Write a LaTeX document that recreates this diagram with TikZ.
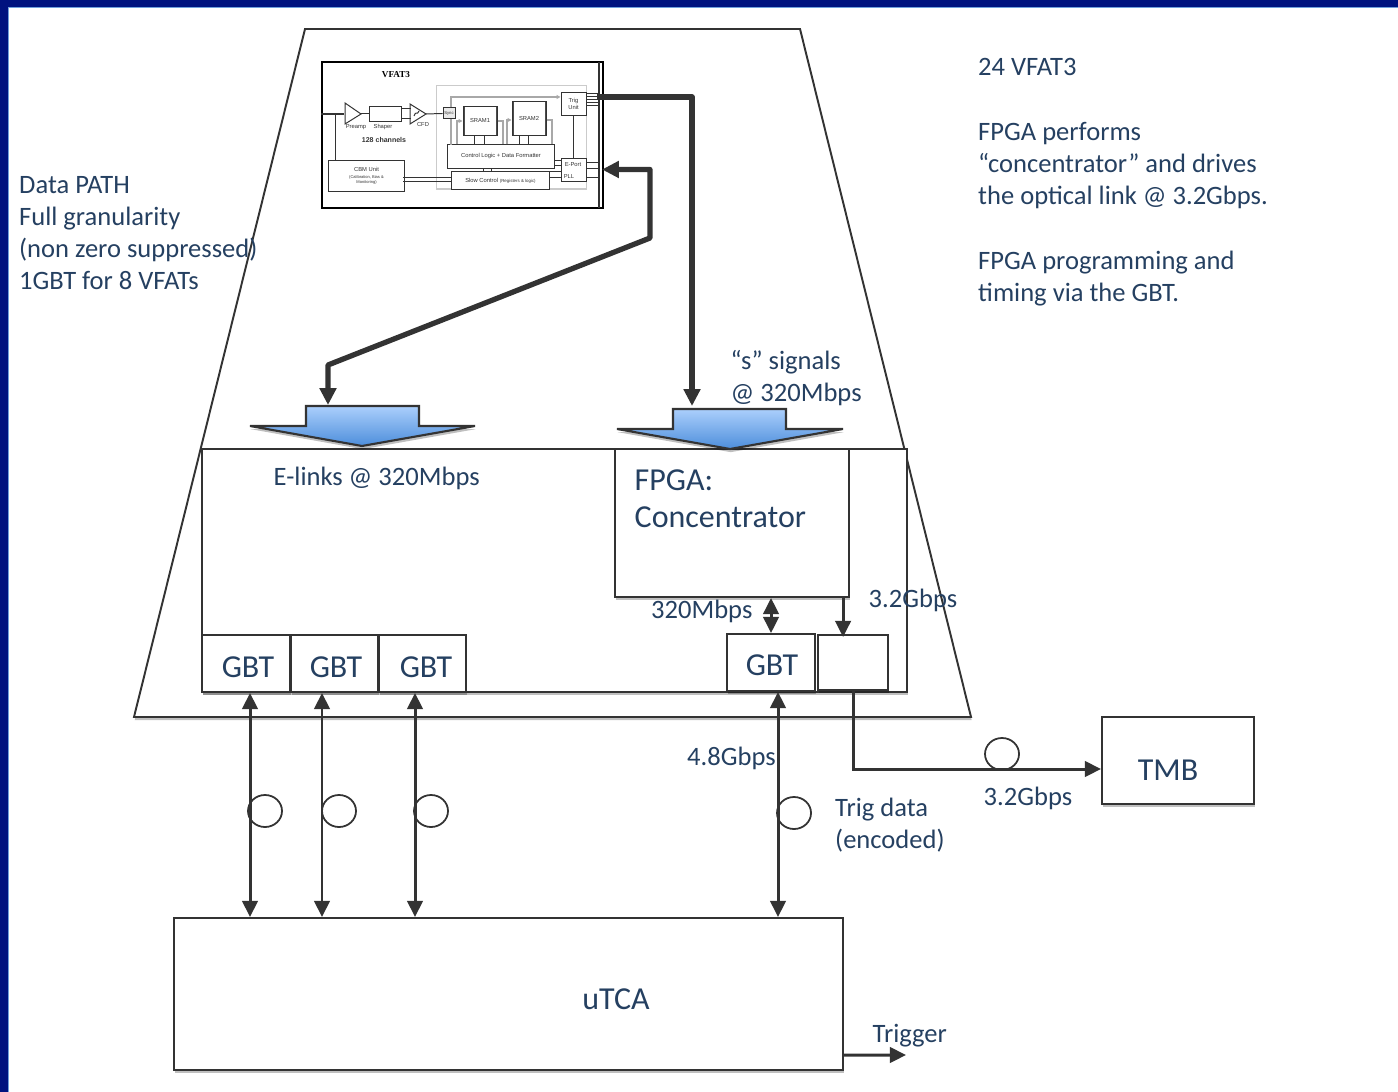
\documentclass[tikz,border=0pt]{standalone}
\usepackage{fontspec}
\setmainfont{Carlito}
\newfontfamily\chipfont{Liberation Sans}
\newfontfamily\chiptitle{Liberation Serif}
\usetikzlibrary{calc,arrows.meta,shadows,shapes.geometric}
\definecolor{framenavy}{HTML}{00137F}
\definecolor{frameedge}{HTML}{6FA0DC}
\definecolor{labelblue}{HTML}{254061}
\definecolor{linegray}{HTML}{333333}
\definecolor{chipgray}{HTML}{A8A8A8}
\definecolor{flowtop}{HTML}{ABCFFC}
\definecolor{flowbottom}{HTML}{4D8EDB}
\tikzset{
  softshadow/.style={drop shadow={shadow xshift=0.2pt,shadow yshift=-0.9pt,opacity=.25,fill=black}},
  boxnode/.style={draw=linegray,line width=0.55pt,fill=white,softshadow,inner sep=0,text=labelblue},
  boxtext/.style={text=labelblue,inner sep=0,font=\fontsize{9.1}{10.5}\selectfont},
  plainline/.style={draw=linegray,line width=0.55pt},
  linktwo/.style={draw=linegray,line width=0.85pt,{Triangle[length=4.6pt,width=4.4pt]}-{Triangle[length=4.6pt,width=4.4pt]}},
  linkone/.style={draw=linegray,line width=0.85pt,-{Triangle[length=4.6pt,width=4.4pt]}},
  chiplink/.style={draw=linegray,line width=1.5pt,-{Triangle[length=4.8pt,width=4.6pt]}},
  chiplinktwo/.style={draw=linegray,line width=1.5pt,{Triangle[length=4.8pt,width=4.6pt]}-{Triangle[length=4.8pt,width=4.6pt]}},
  fibre/.style={draw=linegray,line width=0.5pt,ellipse,minimum width=0.34cm,minimum height=0.32cm,inner sep=0},
  notetext/.style={text=labelblue,align=left,inner sep=0,anchor=north west,font=\fontsize{7.55}{9.1}\selectfont},
  ratetext/.style={text=labelblue,inner sep=0,anchor=west,font=\fontsize{7.55}{9.1}\selectfont},
  flowarrow/.style={draw=linegray,line width=0.6pt,top color=flowtop,bottom color=flowbottom,softshadow},
  chipbox/.style={draw=black!80,line width=0.28pt,fill=white,text=black!80,inner sep=0,align=center,font=\chipfont\fontsize{1.65}{2}\selectfont},
  chiptext/.style={inner sep=0,text=black!80,align=center,font=\chipfont\fontsize{1.65}{2}\selectfont},
  chipwire/.style={draw=black!80,line width=0.28pt},
  graywire/.style={draw=chipgray,line width=0.45pt},
  grayarrow/.style={draw=chipgray,line width=0.45pt,-{Triangle[length=1.1pt,width=1.1pt]}}
}
\begin{document}
\begin{tikzpicture}[x=0.01cm,y=-0.01cm]
  \useasboundingbox (0,0) rectangle (1398,1092);

  % Frame
  \fill[framenavy] (0,0) rectangle (1398,7);
  \fill[framenavy] (0,0) rectangle (8,1092);
  \fill[frameedge] (8,7) rectangle (1398,8);
  \fill[frameedge] (8,7) rectangle (9,1092);

  % Trapezoid
  \draw[plainline,softshadow,fill=white] (305,29) -- (800,29) -- (971,717) -- (134,717) -- cycle;

  % Board
  \node (board) [boxnode,minimum width=7.05cm,minimum height=2.43cm] at (554.5,570.5) {};

  % FPGA
  \node (fpga) [boxnode,minimum width=2.34cm,minimum height=1.48cm] at (732,523) {};
  \node (fpgatext) [notetext,font=\fontsize{9.1}{10.4}\selectfont] at (634,469) {FPGA:\\Concentrator};

  % GBTs
  \node (gbta) [boxnode,minimum width=0.88cm,minimum height=0.57cm] at (246,663.5) {};
  \node (gbtb) [boxnode,minimum width=0.87cm,minimum height=0.57cm] at (334.5,663.5) {};
  \node (gbtc) [boxnode,minimum width=0.87cm,minimum height=0.57cm] at (422.5,663.5) {};
  \node (gbtd) [boxnode,minimum width=0.88cm,minimum height=0.57cm] at (771,662.5) {};
  \node (optic) [boxnode,minimum width=0.70cm,minimum height=0.55cm] at (853,662.5) {};
  \node (gbtatext) [boxtext] at (248,667) {GBT};
  \node (gbtbtext) [boxtext] at (336,667) {GBT};
  \node (gbtctext) [boxtext] at (426,667) {GBT};
  \node (gbtdtext) [boxtext] at (772,665) {GBT};

  % Back end
  \node (utca) [boxnode,minimum width=6.69cm,minimum height=1.52cm] at (508.5,994) {};
  \node (utcatext) [boxtext] at (616,999) {uTCA};
  \node (tmb) [boxnode,minimum width=1.52cm,minimum height=0.87cm] at (1178,760.5) {};
  \node (tmbtext) [boxtext] at (1168,770) {TMB};

  % Chip
  \node (chip) [draw=black,line width=0.6pt,fill=white,minimum width=2.81cm,minimum height=1.46cm,inner sep=0] at (462.5,135) {};
  \draw[chipwire,line width=0.5pt] (599,62) -- (599,208);
  \node (chipzone) [draw=chipgray!60,line width=0.3pt,minimum width=1.49cm,minimum height=1.03cm,inner sep=0] at (511.5,137.5) {};
  \node (chipname) [inner sep=0,font=\chiptitle\bfseries\fontsize{2.6}{3}\selectfont] at (396,75) {VFAT3};
  \node (preamp) [inner sep=0,minimum size=0] at (345,114) {};
  \draw[chipwire] (345,103) -- (361,114) -- (345,124) -- cycle;
  \node (shaper) [chipbox,minimum width=0.32cm,minimum height=0.14cm] at (385,114) {};
  \node (cfd) [inner sep=0,minimum size=0] at (410,114) {};
  \draw[chipwire] (410,104) -- (426,114) -- (410,124) -- cycle;
  \draw[chipwire] (414,116) .. controls (416,110) and (417,116) .. (419,111);
  \node (sync) [chipbox,fill=black!8,minimum width=0.12cm,minimum height=0.11cm,font=\chipfont\fontsize{1.2}{1.4}\selectfont] at (449,113.5) {Sync};
  \node (srama) [chipbox,minimum width=0.34cm,minimum height=0.28cm] at (480,121) {SRAM1};
  \node (sramb) [chipbox,minimum width=0.34cm,minimum height=0.33cm] at (529,118.5) {SRAM2};
  \node (trig) [chipbox,minimum width=0.25cm,minimum height=0.22cm] at (573.5,104) {Trig\\Unit};
  \node (logic) [chipbox,minimum width=1.06cm,minimum height=0.23cm] at (501,156.5) {Control Logic + Data Formatter};
  \node (slow) [chipbox,minimum width=0.97cm,minimum height=0.17cm] at (500.5,180.5) {Slow Control {\fontsize{1.25}{1.4}\selectfont (Registers \& logic)}};
  \node (eport) [chipbox,minimum width=0.25cm,minimum height=0.22cm] at (573.5,170) {};
  \node (cbm) [chipbox,minimum width=0.75cm,minimum height=0.30cm] at (366.5,176) {CBM Unit\\[-0.1pt]{\fontsize{1.15}{1.4}\selectfont (Calibration, Bias \&}\\[-0.4pt]{\fontsize{1.15}{1.4}\selectfont Monitoring)}};
  \node[chiptext] at (573,165) {E-Port};
  \node[chiptext] at (569,176.5) {PLL};
  \node[chiptext] at (356,127) {Preamp};
  \node[chiptext] at (383,127) {Shaper};
  \node[chiptext] at (423,124.5) {CFD};
  \node[chiptext,font=\chipfont\bfseries\fontsize{2}{2.4}\selectfont] at (384,140) {128 channels};

  % Chip wiring
  \draw[chipwire,line width=0.4pt] (chip.west |- preamp) -- (preamp);
  \draw[chipwire] ([xshift=-0.305cm]cbm.north) -- +(0,-47);
  \draw[chipwire] (361,114) -- (shaper.west);
  \draw[chipwire] ([yshift=0.05cm]shaper.east) -- +(9,0);
  \draw[chipwire] ([yshift=-0.05cm]shaper.east) -- +(9,0);
  \draw[chipwire] (426,114) -- (sync.west);
  \draw[chipwire] ([xshift=-0.06cm]srama.south) -- +(0,10);
  \draw[chipwire] ([xshift=0.04cm]srama.south) -- +(0,10);
  \draw[chipwire] ([xshift=-0.10cm]sramb.south) -- +(0,10);
  \draw[chipwire] ([xshift=-0.01cm]sramb.south) -- +(0,10);
  \foreach \bar in {463.8,495.8} { \fill[black!70] (\bar,107) rectangle +(1.6,28); }
  \foreach \bar in {512.8,544.8} { \fill[black!70] (\bar,102) rectangle +(1.6,33); }
  \draw[grayarrow] ([xshift=0.02cm]sync.north) |- ([yshift=0.07cm]trig.west);
  \draw[graywire] ([xshift=0.02cm]sync.south) -- +(0,26);
  \draw[grayarrow] ([xshift=-0.44cm]logic.north) |- (srama.west);
  \draw[graywire] (srama.east) -| ([xshift=0.02cm]logic.north);
  \draw[grayarrow] ([xshift=0.06cm]logic.north) |- ([yshift=-0.015cm]sramb.west);
  \draw[graywire] ([yshift=-0.015cm]sramb.east) -| ([xshift=0.51cm]logic.north);
  \draw[chipwire] (trig.south) -- (eport.north);
  \draw[chipwire] ([yshift=0.09cm]eport.west) -- +(-7,0);
  \draw[chipwire] ([yshift=0.04cm]eport.west) -- +(-7,0);
  \draw[chipwire] ([yshift=-0.02cm]eport.west) -- +(-12,0);
  \draw[chipwire] ([yshift=-0.07cm]eport.west) -- +(-12,0);
  \draw[chipwire] ([xshift=-0.18cm]logic.south) -- +(0,4);
  \draw[chipwire] ([xshift=-0.10cm]logic.south) -- +(0,4);
  \draw[chipwire] ([yshift=0.025cm]slow.west) -- +(-48,0);
  \draw[chipwire] ([yshift=-0.015cm]slow.west) -- +(-48,0);
  \foreach \off in {0.10,0.07,0.04,0.01,-0.02} {
    \draw[chipwire] ([yshift=\off cm]trig.east) -- +(13,0);
  }
  \foreach \off in {0.07,0.01,-0.07} {
    \draw[chipwire] ([yshift=\off cm]eport.east) -- +(13,0);
  }

  % Flow arrows
  \draw[flowarrow] (250,426) -- (306,426) -- (306,406) -- (419,406) -- (419,426) -- (475,426) -- (362,446) -- cycle;
  \draw[flowarrow] (617,429) -- (673,429) -- (673,409) -- (786,409) -- (786,429) -- (843,429) -- (730,449) -- cycle;
  \coordinate (flowleft) at (328,405);
  \coordinate (flowright) at (692,406);
  \coordinate (chipin) at (602,169.5);
  \coordinate (chipout) at (597,97);

  % Links from chip
  \draw[chiplink,line join=round] (chipout) -| (flowright);
  \draw[chiplinktwo,line join=round] (chipin) -- (650,169.5) -- (650,238) -- (328,365) -- (flowleft);

  % Links to uTCA
  \foreach \gbt/\off in {gbta/0.04,gbtb/-0.125,gbtc/-0.075,gbtd/0.07} {
    \coordinate (port) at ([xshift=\off cm]\gbt.south);
    \draw[linktwo] (port) -- (port |- utca.north);
  }
  \foreach \spot/\name in {265/fibrea,339/fibreb,431/fibrec} {
    \node (\name) [fibre] at (\spot,811) {};
  }
  \node (fibred) [fibre] at (794,813) {};
  \node (fibree) [fibre] at (1002,754) {};

  % Links around FPGA
  \coordinate (fpgaport) at ([xshift=0.39cm]fpga.south);
  \draw[linktwo] (fpgaport) -- (fpgaport |- gbtd.north);
  \coordinate (fastport) at ([xshift=1.11cm]fpga.south);
  \draw[linkone] (fastport) -- ([yshift=-0.03cm]fastport |- optic.north);
  \coordinate (tmbin) at ([yshift=-0.085cm]tmb.west);
  \draw[linkone] (optic.south) |- (tmbin);
  \coordinate (trigout) at ([yshift=-0.61cm]utca.east);
  \coordinate (trigend) at (906,1055);
  \draw[linkone] (trigout) -- (trigend);

  % Notes
  \node[notetext] (notedata) at (18.5,176) {Data PATH\\Full granularity\\(non zero suppressed)\\1GBT for 8 VFATs};
  \node[notetext] (notevfat) at (977.5,58) {24 VFAT3};
  \node[notetext] (notefpga) at (977.5,122) {FPGA performs\\``concentrator'' and drives\\the optical link @ 3.2Gbps.};
  \node[notetext] (noteprog) at (977.5,250) {FPGA programming and\\timing via the GBT.};
  \node[notetext] (notes) at (730,350) {``s'' signals\\@ 320Mbps};
  \node[notetext] (notetrig) at (834.5,797) {Trig data\\(encoded)};

  % Rates
  \node[ratetext] (rateelink) at (273,478) {E-links @ 320Mbps};
  \node[ratetext] (ratefpga) at (650.5,611) {320Mbps};
  \node[ratetext] (ratefast) at (868,600) {3.2Gbps};
  \node[ratetext] (rategbt) at (686.5,758) {4.8Gbps};
  \node[ratetext] (ratetmb) at (983,798) {3.2Gbps};
  \node[ratetext] (ratetrigger) at (872,1036) {Trigger};
\end{tikzpicture}
\end{document}
